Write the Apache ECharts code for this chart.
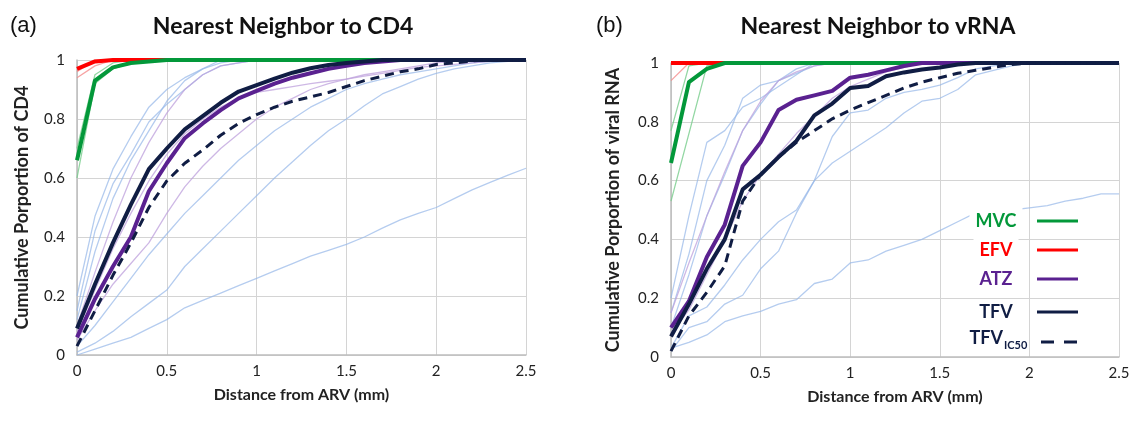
<!DOCTYPE html>
<html><head><meta charset="utf-8">
<script src="https://cdn.jsdelivr.net/npm/echarts@6/dist/echarts.min.js"></script>
<style>html,body{margin:0;padding:0;background:#fff}#c{width:1134px;height:421px}</style>
</head><body><div id="c"></div>
<script>
// Shared distance grid (mm)
const distances = [0,0.1,0.2,0.3,0.4,0.5,0.6,0.7,0.8,0.9,1.0,1.1,1.2,1.3,1.4,1.5,1.6,1.7,1.8,1.9,2.0,2.1,2.2,2.3,2.4,2.5];
const xTicks = ['0','0.5','1','1.5','2','2.5'];

// ---- Panel (a): Nearest Neighbor to CD4 ----
const cd4MVC   = [0.66,0.93,0.975,0.99,0.995,1,1,1,1,1,1,1,1,1,1,1,1,1,1,1,1,1,1,1,1,1];
const cd4EFV   = [0.97,0.995,1,1,1,1,1,1,1,1,1,1,1,1,1,1,1,1,1,1,1,1,1,1,1,1];
const cd4ATZ   = [0.06,0.19,0.30,0.40,0.555,0.65,0.735,0.785,0.83,0.87,0.895,0.92,0.94,0.955,0.97,0.98,0.99,0.995,1,1,1,1,1,1,1,1];
const cd4TFV   = [0.09,0.24,0.38,0.51,0.63,0.70,0.765,0.81,0.855,0.893,0.915,0.937,0.957,0.972,0.983,0.99,0.995,1,1,1,1,1,1,1,1,1];
const cd4TFVic = [0.03,0.15,0.27,0.38,0.50,0.59,0.65,0.695,0.745,0.785,0.815,0.84,0.86,0.875,0.89,0.91,0.93,0.945,0.96,0.97,0.985,0.99,0.997,1,1,1];
// individual replicates (faint)
const cd4RepTFV1 = [0,0.02,0.04,0.06,0.09,0.12,0.16,0.185,0.21,0.235,0.26,0.285,0.31,0.335,0.355,0.375,0.4,0.43,0.458,0.48,0.50,0.53,0.56,0.585,0.61,0.633];
const cd4RepTFV2 = [0.01,0.04,0.08,0.13,0.175,0.22,0.30,0.36,0.42,0.48,0.54,0.60,0.655,0.71,0.76,0.80,0.845,0.885,0.91,0.935,0.955,0.97,0.98,0.99,0.995,1];
const cd4RepTFV3 = [0.03,0.10,0.18,0.26,0.34,0.41,0.48,0.54,0.60,0.66,0.71,0.76,0.80,0.84,0.87,0.90,0.92,0.935,0.95,0.96,0.97,0.98,0.99,0.995,1,1];
const cd4RepTFV4 = [0.20,0.47,0.63,0.74,0.84,0.90,0.94,0.97,0.99,1,1,1,1,1,1,1,1,1,1,1,1,1,1,1,1,1];
const cd4RepTFV5 = [0.15,0.42,0.58,0.68,0.79,0.85,0.90,0.95,0.98,0.99,1,1,1,1,1,1,1,1,1,1,1,1,1,1,1,1];
const cd4RepTFV6 = [0.12,0.35,0.53,0.66,0.76,0.86,0.93,0.97,1,1,1,1,1,1,1,1,1,1,1,1,1,1,1,1,1,1];
const cd4RepATZ1 = [0.10,0.28,0.45,0.60,0.72,0.82,0.90,0.95,0.98,0.99,1,1,1,1,1,1,1,1,1,1,1,1,1,1,1,1];
const cd4RepATZ2 = [0.05,0.15,0.24,0.31,0.38,0.48,0.57,0.64,0.70,0.75,0.80,0.84,0.87,0.90,0.92,0.935,0.95,0.96,0.97,0.98,0.99,0.995,1,1,1,1];
const cd4RepATZ3 = [0.08,0.22,0.36,0.48,0.59,0.68,0.75,0.80,0.84,0.87,0.89,0.90,0.91,0.92,0.928,0.935,0.945,0.955,0.965,0.975,0.98,0.985,0.99,0.995,1,1];
const cd4RepMVC1 = [0.60,0.92,0.97,0.99,1,1,1,1,1,1,1,1,1,1,1,1,1,1,1,1,1,1,1,1,1,1];
const cd4RepMVC2 = [0.70,0.95,0.99,1,1,1,1,1,1,1,1,1,1,1,1,1,1,1,1,1,1,1,1,1,1,1];
const cd4RepEFV1 = [0.94,0.98,1,1,1,1,1,1,1,1,1,1,1,1,1,1,1,1,1,1,1,1,1,1,1,1];
const cd4RepEFV2 = [0.96,1,1,1,1,1,1,1,1,1,1,1,1,1,1,1,1,1,1,1,1,1,1,1,1,1];

// ---- Panel (b): Nearest Neighbor to vRNA ----
const rnaMVC   = [0.66,0.935,0.98,1,1,1,1,1,1,1,1,1,1,1,1,1,1,1,1,1,1,1,1,1,1,1];
const rnaEFV   = [1,1,1,1,1,1,1,1,1,1,1,1,1,1,1,1,1,1,1,1,1,1,1,1,1,1];
const rnaATZ   = [0.10,0.19,0.34,0.45,0.65,0.73,0.84,0.875,0.89,0.905,0.95,0.96,0.975,0.99,1,1,1,1,1,1,1,1,1,1,1,1];
const rnaTFV   = [0.07,0.18,0.30,0.40,0.57,0.62,0.68,0.735,0.822,0.862,0.915,0.922,0.955,0.968,0.978,0.985,0.995,1,1,1,1,1,1,1,1,1];
const rnaTFVic = [0.02,0.14,0.22,0.31,0.53,0.62,0.68,0.73,0.77,0.81,0.84,0.865,0.89,0.915,0.935,0.95,0.965,0.975,0.985,0.995,1,1,1,1,1,1];
const rnaRepTFV1 = [0.03,0.05,0.075,0.12,0.14,0.155,0.18,0.195,0.25,0.265,0.32,0.33,0.36,0.38,0.40,0.43,0.46,0.49,0.495,0.50,0.507,0.515,0.53,0.54,0.555,0.555];
const rnaRepTFV2 = [0.02,0.10,0.12,0.18,0.21,0.30,0.36,0.49,0.60,0.75,0.83,0.84,0.88,0.90,0.91,0.925,0.95,0.98,0.99,1,1,1,1,1,1,1];
const rnaRepTFV3 = [0.03,0.14,0.17,0.245,0.33,0.40,0.46,0.50,0.60,0.66,0.70,0.74,0.78,0.83,0.87,0.88,0.91,0.96,0.975,0.99,1,1,1,1,1,1];
const rnaRepTFV4 = [0.20,0.48,0.73,0.77,0.85,0.88,0.92,0.96,1,1,1,1,1,1,1,1,1,1,1,1,1,1,1,1,1,1];
const rnaRepTFV5 = [0.15,0.35,0.60,0.72,0.88,0.925,0.94,0.965,0.99,1,1,1,1,1,1,1,1,1,1,1,1,1,1,1,1,1];
const rnaRepTFV6 = [0.10,0.28,0.48,0.62,0.77,0.86,0.94,0.98,1,1,1,1,1,1,1,1,1,1,1,1,1,1,1,1,1,1];
const rnaRepATZ1 = [0.15,0.32,0.48,0.63,0.77,0.87,0.94,0.97,0.99,1,1,1,1,1,1,1,1,1,1,1,1,1,1,1,1,1];
const rnaRepATZ2 = [0.08,0.16,0.28,0.40,0.53,0.62,0.69,0.76,0.82,0.88,0.92,0.945,0.97,0.985,1,1,1,1,1,1,1,1,1,1,1,1];
const rnaRepMVC1 = [0.77,0.99,1,1,1,1,1,1,1,1,1,1,1,1,1,1,1,1,1,1,1,1,1,1,1,1];
const rnaRepMVC2 = [0.53,0.76,0.99,1,1,1,1,1,1,1,1,1,1,1,1,1,1,1,1,1,1,1,1,1,1,1];
const rnaRepEFV1 = [0.94,1,1,1,1,1,1,1,1,1,1,1,1,1,1,1,1,1,1,1,1,1,1,1,1,1];

const C = {mvc:'#03983a', efv:'#ff0000', atz:'#5a2190', tfv:'#101d44',
           fBlue:'rgba(150,182,232,0.7)', fPurple:'rgba(190,160,220,0.75)', fGreen:'rgba(120,205,140,0.8)', fRed:'rgba(245,140,140,0.8)'};
const FONT = 'Lato, "Open Sans", sans-serif';

function mk(name, vals, gi, color, width, z, dashed) {
  return {
    type:'line', name, xAxisIndex:gi, yAxisIndex:gi, z, silent:true, animation:false,
    symbol:'none', smooth:false,
    data: distances.map((d,i)=>[d, vals[i]]),
    lineStyle:{color, width, type: dashed ? [9,6] : 'solid', cap:'butt', join:'round'}
  };
}
function panel(gi, reps, main) {
  const out = [];
  reps.forEach((r,k)=>out.push(mk('rep'+gi+'_'+k, r[0], gi, r[1], 1.3, 2)));
  main.forEach(m=>out.push(mk(m[0], m[1], gi, m[2], m[3]||4, 5, m[4])));
  return out;
}

const series = [].concat(
  panel(0, [
    [cd4RepTFV1,C.fBlue],[cd4RepTFV2,C.fBlue],[cd4RepTFV3,C.fBlue],[cd4RepTFV4,C.fBlue],[cd4RepTFV5,C.fBlue],[cd4RepTFV6,C.fBlue],
    [cd4RepATZ1,C.fPurple],[cd4RepATZ2,C.fPurple],[cd4RepATZ3,C.fPurple],
    [cd4RepMVC1,C.fGreen],[cd4RepMVC2,C.fGreen],[cd4RepEFV1,C.fRed],[cd4RepEFV2,C.fRed]
  ], [
    ['EFV', cd4EFV, C.efv],['MVC', cd4MVC, C.mvc],['ATZ', cd4ATZ, C.atz],['TFV', cd4TFV, C.tfv],['TFVIC50', cd4TFVic, C.tfv, 3, true]
  ]),
  panel(1, [
    [rnaRepTFV1,C.fBlue],[rnaRepTFV2,C.fBlue],[rnaRepTFV3,C.fBlue],[rnaRepTFV4,C.fBlue],[rnaRepTFV5,C.fBlue],[rnaRepTFV6,C.fBlue],
    [rnaRepATZ1,C.fPurple],[rnaRepATZ2,C.fPurple],
    [rnaRepMVC1,C.fGreen],[rnaRepMVC2,C.fGreen],[rnaRepEFV1,C.fRed]
  ], [
    ['EFV', rnaEFV, C.efv],['MVC', rnaMVC, C.mvc],['ATZ', rnaATZ, C.atz],['TFV', rnaTFV, C.tfv],['TFVIC50', rnaTFVic, C.tfv, 3, true]
  ])
);

function xAx(gi){ return {
  type:'value', gridIndex:gi, min:0, max:2.5, interval:0.5,
  name:'Distance from ARV (mm)', nameLocation:'middle', nameGap:32,
  nameTextStyle:{fontFamily:FONT, fontWeight:'bold', fontSize:16, color:'#222'},
  axisLine:{show:true, lineStyle:{color:'#bdbdbd', width:1.5}}, axisTick:{show:false},
  axisLabel:{fontFamily:FONT, fontSize:15, color:'#222', margin:9, formatter:v=>xTicks[Math.round(v/0.5)]},
  splitLine:{show:true, lineStyle:{color:'#d4d4d4', width:1}}
};}
function yAx(gi, name, gap){ return {
  type:'value', gridIndex:gi, min:0, max:1, interval:0.2,
  name, nameLocation:'middle', nameGap:gap, nameRotate:90,
  nameTextStyle:{fontFamily:FONT, fontWeight:'bold', fontSize:18, color:'#222'},
  axisLine:{show:true, lineStyle:{color:'#bdbdbd', width:1.5}}, axisTick:{show:false},
  axisLabel:{fontFamily:FONT, fontSize:15, color:'#222', margin:12},
  splitLine:{show:true, lineStyle:{color:'#d4d4d4', width:1}}
};}

const legendRows = [
  {t:'MVC', c:C.mvc, y:221},
  {t:'EFV', c:C.efv, y:250},
  {t:'ATZ', c:C.atz, y:279},
  {t:'TFV', c:C.tfv, y:312},
];
const graphic = [
  {type:'text', x:10, y:26, style:{text:'(a)', font:'22px "Liberation Sans", Arial, sans-serif', fill:'#111', verticalAlign:'middle'}},
  {type:'text', x:596, y:26, style:{text:'(b)', font:'22px "Liberation Sans", Arial, sans-serif', fill:'#111', verticalAlign:'middle'}},
  {type:'text', x:283, y:27, style:{text:'Nearest Neighbor to CD4', font:'bold 23px '+FONT, fill:'#111', align:'center', verticalAlign:'middle'}},
  {type:'text', x:878, y:27, style:{text:'Nearest Neighbor to vRNA', font:'bold 23px '+FONT, fill:'#111', align:'center', verticalAlign:'middle'}},
];
legendRows.forEach((r,i)=>{
  graphic.push({type:'text', z:100, x:996, y:r.y, style:{text:r.t, font:'bold 18px '+FONT, fill:r.c, align:'center', verticalAlign:'middle', backgroundColor: i<2 ? '#fff' : null, padding:[4,6]}});
  graphic.push({type:'line', z:100, shape:{x1:1037,y1:r.y,x2:1078,y2:r.y}, style:{stroke:r.c, lineWidth:3}});
});
graphic.push({type:'text', z:100, x:1003, y:338, style:{text:'TFV', font:'bold 18px '+FONT, fill:C.tfv, align:'right', verticalAlign:'middle'}});
graphic.push({type:'text', z:100, x:1004, y:345, style:{text:'IC50', font:'bold 11px '+FONT, fill:C.tfv, align:'left', verticalAlign:'middle'}});
graphic.push({type:'line', z:100, shape:{x1:1041,y1:342,x2:1078,y2:342}, style:{stroke:C.tfv, lineWidth:3, lineDash:[13,10]}});

const chart = echarts.init(document.getElementById('c'));
chart.setOption({
  animation:false,
  backgroundColor:'#fff',
  grid:[
    {left:77, top:60, width:449, height:295},
    {left:671, top:63, width:448, height:294}
  ],
  xAxis:[xAx(0), xAx(1)],
  yAxis:[yAx(0,'Cumulative Porportion of CD4',46), yAx(1,'Cumulative Porportion of viral RNA',49)],
  series,
  graphic
});
</script></body></html>
